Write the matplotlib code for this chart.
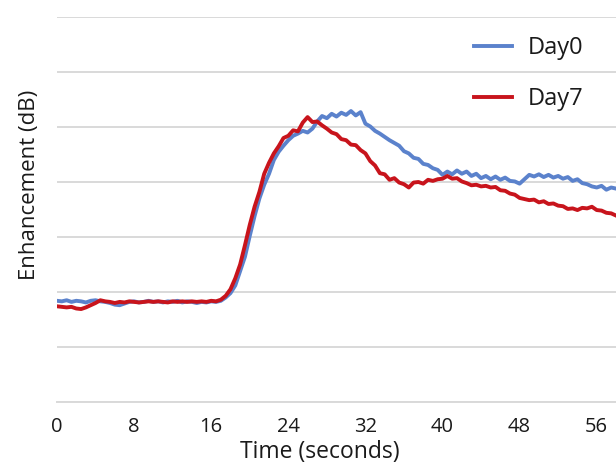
import numpy as np
import matplotlib
matplotlib.use("Agg")
import matplotlib.pyplot as plt

plt.rcParams['font.family'] = ['Open Sans', 'DejaVu Sans']

step = 0.5
day0 = [
    1.84, 1.83, 1.85, 1.82, 1.84, 1.83, 1.81, 1.84, 1.85, 1.83,
    1.82, 1.80, 1.77, 1.76, 1.79, 1.82, 1.83, 1.81, 1.82, 1.84,
    1.82, 1.83, 1.81, 1.83, 1.82, 1.84, 1.81, 1.83, 1.82, 1.80,
    1.82, 1.81, 1.83, 1.82,
    1.84, 1.90, 1.98, 2.12, 2.38, 2.64, 3.02, 3.38, 3.70, 3.95,
    4.15, 4.40, 4.55, 4.66, 4.76, 4.84, 4.88, 4.93, 4.90, 4.97,
    5.10, 5.20, 5.16, 5.24, 5.19, 5.26, 5.22, 5.29, 5.21, 5.27,
    5.06, 5.01, 4.93, 4.88, 4.82, 4.76, 4.71, 4.66, 4.56, 4.52,
    4.44, 4.42, 4.33, 4.31, 4.25, 4.22, 4.13, 4.19, 4.14, 4.21,
    4.15, 4.19, 4.11, 4.15, 4.07, 4.11, 4.05, 4.10, 4.04, 4.08,
    4.02, 4.01, 3.97, 4.05, 4.13, 4.10, 4.14, 4.09, 4.13, 4.08,
    4.11, 4.06, 4.09, 4.02, 4.05, 3.98, 3.96, 3.92, 3.90, 3.93,
    3.86, 3.90, 3.88,
]
day7 = [
    1.74, 1.73, 1.72, 1.73, 1.70, 1.69, 1.72, 1.76, 1.80, 1.85,
    1.83, 1.82, 1.80, 1.82, 1.81, 1.83, 1.82, 1.81, 1.82, 1.83,
    1.82, 1.83, 1.82, 1.81, 1.83, 1.82, 1.83, 1.82, 1.83, 1.82,
    1.83, 1.82, 1.84, 1.83,
    1.86, 1.93, 2.05, 2.25, 2.50, 2.85, 3.22, 3.55, 3.82, 4.15,
    4.35, 4.52, 4.65, 4.80, 4.84, 4.94, 4.92, 5.08, 5.18, 5.09,
    5.10, 5.03, 4.97, 4.90, 4.87, 4.78, 4.76, 4.68, 4.67, 4.58,
    4.52, 4.38, 4.30, 4.16, 4.14, 4.04, 4.07, 3.99, 3.96, 3.90,
    3.99, 4.00, 3.97, 4.04, 4.02, 4.05, 4.06, 4.11, 4.06, 4.07,
    4.01, 3.98, 3.94, 3.95, 3.92, 3.93, 3.90, 3.91, 3.85, 3.84,
    3.79, 3.77, 3.71, 3.69, 3.67, 3.68, 3.63, 3.65, 3.60, 3.61,
    3.57, 3.56, 3.51, 3.52, 3.49, 3.53, 3.52, 3.55, 3.49, 3.48,
    3.44, 3.43, 3.39,
]
labels = ["Day0", "Day7"]
xticks = [0, 8, 16, 24, 32, 40, 48, 56]

t0 = np.arange(len(day0)) * step
t7 = np.arange(len(day7)) * step

fig = plt.figure(figsize=(6.16, 4.67), dpi=100)
ax = fig.add_axes([57/616, 65/467, 559/616, 385/467])

ax.plot(t0, day0, color='#5b82cc', lw=2.8, label=labels[0], solid_joinstyle='round')
ax.plot(t7, day7, color='#c8141c', lw=2.8, label=labels[1], solid_joinstyle='round')

ax.set_xlim(0, 58.0)
ax.set_ylim(0, 7)
ax.set_yticks(range(0, 8))
ax.set_yticklabels([])
ax.set_xticks(xticks)
ax.set_xticklabels([str(v) for v in xticks])
ax.tick_params(axis='x', length=0, labelsize=14.5, pad=11, labelcolor='#1a1a1a')
ax.tick_params(axis='y', length=0, pad=0)
ax.grid(axis='y', color='#d9d9d9', lw=1.4)
ax.set_axisbelow(True)
for s in ['top', 'right', 'left']:
    ax.spines[s].set_visible(False)
ax.spines['bottom'].set_color('#d9d9d9')
ax.spines['bottom'].set_linewidth(1.4)

fig.text(320/616, 1 - 452/467, "Time (seconds)", ha='center', va='center',
         fontsize=16.5, color='#1a1a1a')
fig.text(30/616, 1 - 185/467, "Enhancement (dB)", ha='center', va='center',
         rotation=90, fontsize=16, color='#1a1a1a')

ax.legend(loc='upper left', bbox_to_anchor=(453/616, 1 - 15/467),
          bbox_transform=fig.transFigure, frameon=False, fontsize=17,
          handlelength=1.6, handletextpad=0.65, labelspacing=1.15,
          borderpad=0.4, labelcolor='#1a1a1a')

fig.savefig('out.png', dpi=100)
